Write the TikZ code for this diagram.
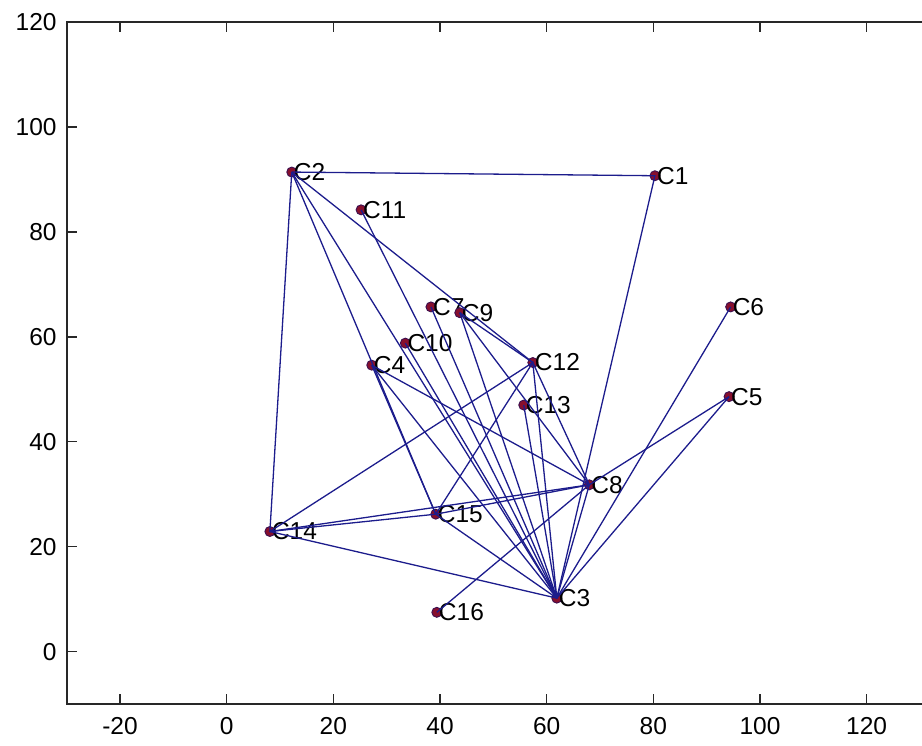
\documentclass[tikz,border=0pt]{standalone}
\usepackage{fontspec}
\setmainfont{Liberation Sans}
\begin{document}
\begin{tikzpicture}[x=5.333pt, y=5.2475pt]

\definecolor{linkblue}{RGB}{28,28,140}
\definecolor{dotred}{RGB}{135,15,45}
\definecolor{dotedge}{RGB}{60,15,80}
\definecolor{axisgray}{RGB}{40,40,40}

\tikzstyle{pt}=[circle, draw=dotedge, fill=dotred, line width=0.9pt, inner sep=0pt, minimum size=10pt]
\tikzstyle{lbl}=[inner sep=0pt, label distance=-3.5pt, font=\fontsize{24.5}{26}\selectfont]
\tikzstyle{link}=[linkblue, line width=1.3pt]
\tikzstyle{ticklbl}=[inner sep=0pt, font=\fontsize{24.5}{26}\selectfont]
\tikzstyle{axis}=[axisgray, line width=1.4pt]

\useasboundingbox (-42.51,-17.97) rectangle (130.38,124.19);

% frame and ticks
\draw[axis, line width=1.6pt] (130.38,120) -- (-30,120) -- (-30,-10) -- (130.38,-10);
\foreach \x in {-20,0,...,120} {
  \draw[axis] (\x,-10) -- ++(0,10pt);
  \draw[axis] (\x,120) -- ++(0,-10pt);
  \node[ticklbl, anchor=north] (xl\x) at ([yshift=-13pt]\x,-10) {\x};
}
\foreach \y in {0,20,...,120} {
  \draw[axis] (-30,\y) -- ++(10pt,0);
  \node[ticklbl, anchor=east] (yl\y) at ([xshift=-10pt]-30,\y) {\y};
}

% clusters
\node[pt, label={[lbl]right:C1}] (c1) at (80.3,90.7) {};
\node[pt, label={[lbl]right:C2}] (c2) at (12.2,91.4) {};
\node[pt, label={[lbl]right:C3}] (c3) at (61.9,10.2) {};
\node[pt, label={[lbl]right:C4}] (c4) at (27.2,54.6) {};
\node[pt, label={[lbl]right:C5}] (c5) at (94.2,48.6) {};
\node[pt, label={[lbl]right:C6}] (c6) at (94.5,65.7) {};
\node[pt, label={[lbl]right:C7}] (c7) at (38.3,65.7) {};
\node[pt, label={[lbl]right:C8}] (c8) at (68.0,31.8) {};
\node[pt, label={[lbl]right:C9}] (c9) at (43.7,64.6) {};
\node[pt, label={[lbl]right:C10}] (c10) at (33.5,58.8) {};
\node[pt, label={[lbl]right:C11}] (c11) at (25.2,84.2) {};
\node[pt, label={[lbl]right:C12}] (c12) at (57.4,55.1) {};
\node[pt, label={[lbl]right:C13}] (c13) at (55.7,47.0) {};
\node[pt, label={[lbl]right:C14}] (c14) at (8.1,22.9) {};
\node[pt, label={[lbl]right:C15}] (c15) at (39.2,26.2) {};
\node[pt, label={[lbl]right:C16}] (c16) at (39.4,7.5) {};

% links
\draw[link] (c2.center) -- (c1.center) -- (c3.center);
\draw[link] (c2.center) -- (c14.center) -- (c3.center);
\draw[link] (c2.center) -- (c15.center);
\draw[link] (c2.center) -- (c3.center);
\draw[link] (c2.center) -- (c12.center);
\draw[link] (c11.center) -- (c3.center);
\draw[link] (c6.center) -- (c3.center);
\draw[link] (c5.center) -- (c3.center);
\draw[link] (c5.center) -- (c8.center) -- (c3.center);
\draw[link] (c14.center) -- (c12.center) -- (c3.center);
\draw[link] (c14.center) -- (c15.center) -- (c8.center);
\draw[link] (c14.center) -- (c8.center);
\draw[link] (c15.center) -- (c12.center) -- (c8.center);
\draw[link] (c15.center) -- (c3.center);
\draw[link] (c4.center) -- (c15.center);
\draw[link] (c4.center) -- (c8.center);
\draw[link] (c4.center) -- (c3.center);
\draw[link] (c10.center) -- (c3.center);
\draw[link] (c7.center) -- (c3.center);
\draw[link] (c9.center) -- (c12.center);
\draw[link] (c9.center) -- (c3.center);
\draw[link] (c9.center) -- (c8.center);
\draw[link] (c13.center) -- (c3.center);
\draw[link] (c16.center) -- (c8.center);

\end{tikzpicture}
\end{document}
